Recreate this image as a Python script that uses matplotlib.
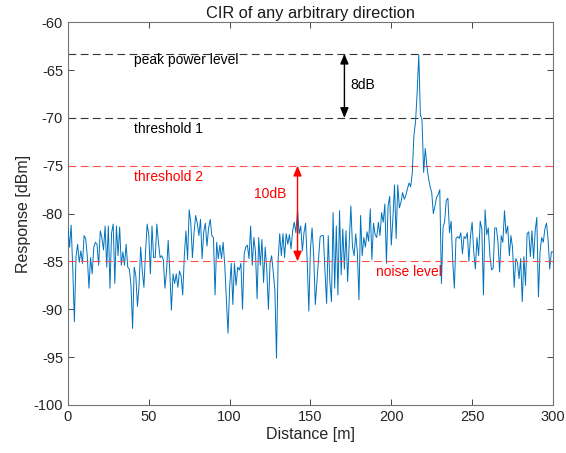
import numpy as np
import matplotlib
matplotlib.use('Agg')
import matplotlib.pyplot as plt

# ============================================================================
# DATOS
# ============================================================================
distancia = np.arange(0, 301)  # m

respuesta = [
    # 0 - 50
    -81.5, -83.5, -81.2, -85.8, -91.3, -84.5, -83.2, -85.1, -83.9, -85.2,
    -82.3, -82.6, -84.5, -87.8, -84.6, -86.3, -83.5, -83.0, -83.2, -85.4,
    -81.8, -82.5, -83.8, -81.3, -85.6, -81.3, -87.8, -82.0, -81.1, -87.3,
    -81.3, -84.4, -81.4, -85.4, -84.0, -85.4, -83.2, -85.6, -85.8, -87.5,
    -92.0, -85.6, -86.5, -89.7, -87.5, -83.5, -86.0, -87.7, -84.0, -81.1,
    -82.2,
    # 51 - 100
    -86.3, -81.3, -84.6, -84.6, -81.1, -83.0, -84.6, -84.4, -84.8, -87.8,
    -86.0, -82.8, -86.0, -90.1, -86.3, -87.3, -86.3, -87.7, -86.0, -86.5,
    -88.5, -84.4, -81.8, -84.8, -79.6, -81.0, -84.6, -82.0, -80.2, -81.0,
    -82.3, -80.6, -84.7, -81.9, -81.0, -83.4, -81.5, -80.6, -82.3, -82.5,
    -88.5, -83.0, -84.7, -83.3, -84.7, -83.0, -85.4, -89.0, -92.5, -87.8,
    # 101 - 150
    -85.2, -89.5, -85.2, -87.5, -85.6, -85.9, -85.2, -90.0, -84.2, -83.5,
    -83.3, -84.7, -81.3, -85.4, -82.5, -84.0, -88.9, -82.5, -85.4, -82.7,
    -87.2, -83.5, -85.9, -90.0, -85.2, -84.4, -86.1, -88.0, -95.1, -84.9,
    -82.1, -84.4, -82.1, -84.6, -82.1, -83.2, -82.2, -83.7, -81.8, -80.9,
    -82.0, -79.6, -82.1, -81.3, -83.9, -82.0, -81.0, -85.0, -90.2, -83.7,
    # 151 - 200
    -81.5, -84.4, -89.5, -87.1, -84.7, -82.4, -82.3, -82.3, -86.1, -89.4,
    -82.3, -87.1, -89.2, -79.9, -87.8, -81.3, -88.5, -79.7, -86.4, -81.6,
    -85.8, -81.8, -87.1, -83.0, -79.2, -83.5, -84.4, -82.1, -84.0, -89.0,
    -80.2, -84.4, -82.5, -83.5, -81.9, -82.9, -79.5, -84.8, -81.0, -82.2,
    -82.5, -80.9, -82.3, -79.9, -80.9, -79.0, -85.2, -79.2, -78.2, -83.3,
    # 201 - 250
    -80.5, -77.0, -82.6, -77.0, -79.4, -78.8, -77.8, -78.5, -78.1, -77.4,
    -76.8, -77.2, -75.7, -71.8, -70.4, -67.3, -63.4, -69.7, -70.2, -75.7,
    -73.2, -75.0, -76.3, -77.2, -77.8, -80.0, -79.2, -78.3, -78.0, -77.5,
    -87.3, -81.5, -80.8, -78.6, -78.4, -82.0, -80.8, -85.0, -87.8, -82.6,
    -82.4, -82.6, -82.0, -84.2, -82.4, -82.6, -82.0, -85.0, -82.3, -80.9,
    # 251 - 300
    -84.0, -85.8, -82.5, -84.4, -80.8, -81.6, -88.5, -79.6, -82.2, -81.5,
    -84.4, -85.9, -85.7, -81.5, -81.5, -83.0, -86.1, -82.3, -83.0, -79.7,
    -82.1, -81.3, -84.4, -82.3, -83.6, -87.7, -84.7, -85.1, -86.8, -84.7,
    -89.2, -84.5, -87.5, -82.1, -81.9, -84.5, -81.8, -84.7, -81.8, -80.4,
    -88.7, -84.0, -82.5, -83.0, -81.6, -81.0, -82.8, -85.8, -84.0, -84.0,
]

# Niveles de referencia [dBm]
nivel_pico = -63.3
umbral_1 = -70.0
umbral_2 = -75.0
nivel_ruido = -85.0

xticks = [0, 50, 100, 150, 200, 250, 300]
yticks = [-100, -95, -90, -85, -80, -75, -70, -65, -60]

# ============================================================================
# GRÁFICO
# ============================================================================
plt.rcParams['font.family'] = ['Liberation Sans', 'DejaVu Sans']
plt.rcParams['axes.unicode_minus'] = False

fig = plt.figure(figsize=(5.66, 4.53), dpi=100)
ax = fig.add_axes([0.120, 0.106, 0.857, 0.845])

ax.plot(distancia, respuesta, color='#0072BD', linewidth=0.7, zorder=3)

# líneas de nivel
estilo = dict(linestyle='--', dashes=(7, 4), linewidth=0.8)
ax.plot([0, 300], [nivel_pico, nivel_pico], color='0.2', **estilo)
ax.plot([0, 300], [umbral_1, umbral_1], color='0.2', **estilo)
ax.plot([0, 300], [umbral_2, umbral_2], color='#ff5050', **estilo)
ax.plot([0, 300], [nivel_ruido, nivel_ruido], color='#ff5050', zorder=4, **estilo)

# flechas
ax.annotate('', xy=(171, nivel_pico), xytext=(171, umbral_1),
            arrowprops=dict(arrowstyle='<|-|>,head_length=0.6,head_width=0.25',
                            color='black', lw=1.0, shrinkA=0, shrinkB=0))
ax.annotate('', xy=(142, umbral_2), xytext=(142, nivel_ruido),
            arrowprops=dict(arrowstyle='<|-|>,head_length=0.6,head_width=0.25',
                            color='red', lw=1.0, shrinkA=0, shrinkB=0), zorder=5)

ax.text(41, -64.0, 'peak power level', fontsize=10, va='center', ha='left')
ax.text(41, -71.2, 'threshold 1', fontsize=10, va='center', ha='left')
ax.text(41, -76.2, 'threshold 2', fontsize=10, va='center', ha='left', color='red')
ax.text(174.5, -66.6, '8dB', fontsize=10, va='center', ha='left')
ax.text(115, -78.0, '10dB', fontsize=10, va='center', ha='left', color='red')
ax.text(190.5, -86.1, 'noise level', fontsize=10, va='center', ha='left', color='red')

ax.set_xlim(0, 300)
ax.set_ylim(-100, -60)
ax.set_xticks(xticks)
ax.set_yticks(yticks)
ax.tick_params(direction='in', top=True, right=True, length=4, width=0.6,
               colors='0.15', labelsize=10.5)
for sp in ax.spines.values():
    sp.set_color('0.45')
    sp.set_linewidth(0.8)

ax.set_xlabel('Distance [m]', fontsize=11.5, color='0.15', labelpad=2)
ax.set_ylabel('Response [dBm]', fontsize=11.5, color='0.15', labelpad=2)
ax.set_title('CIR of any arbitrary direction', fontsize=11.8, color='0.1', pad=3)

plt.savefig('out.png', dpi=100)
plt.close()
